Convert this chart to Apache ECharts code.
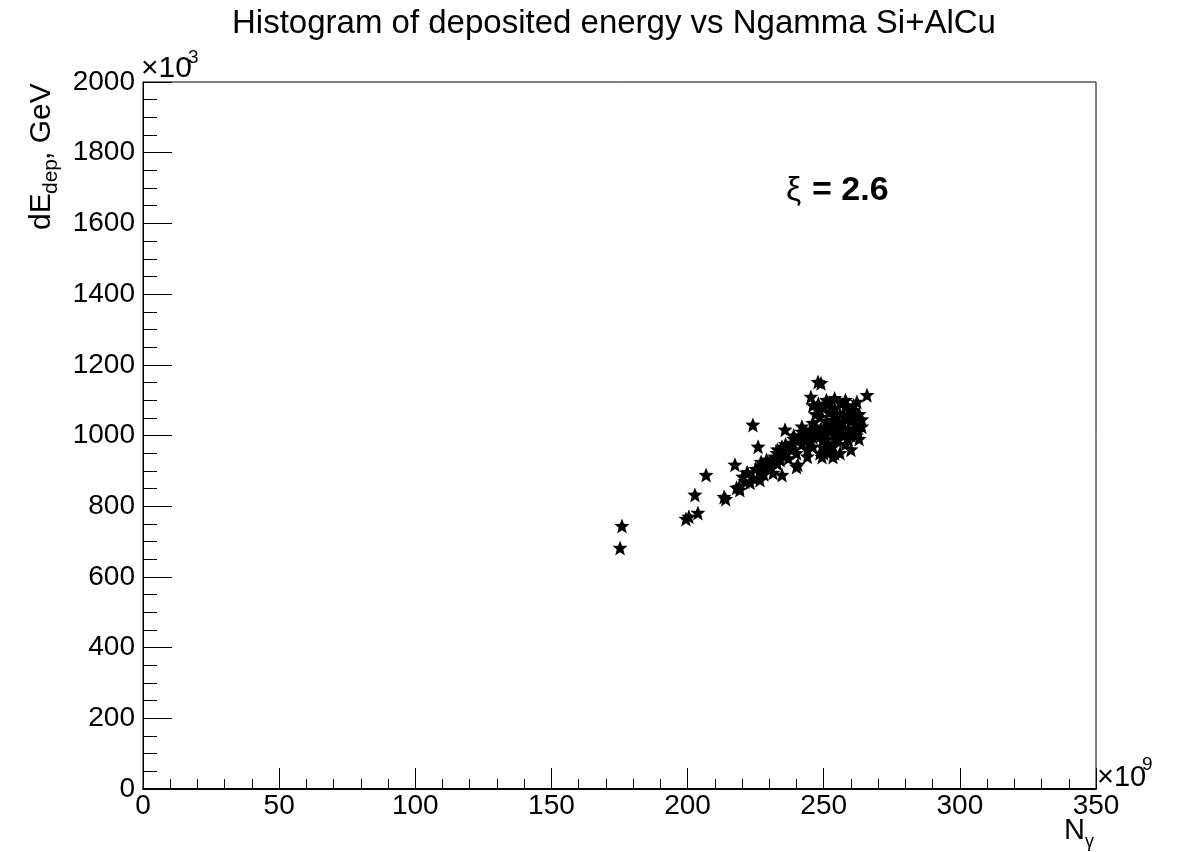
<!DOCTYPE html>
<html>
<head>
<meta charset="utf-8">
<script src="https://cdn.jsdelivr.net/npm/echarts@6/dist/echarts.min.js"></script>
<style>
html,body{margin:0;padding:0;background:#fff;}
#chart{width:1182px;height:852px;}
</style>
</head>
<body>
<div id="chart"></div>
<script>
// ---- data (x in units of 1e9, y in units of 1e3 GeV) ----
const ngamma = [
  175.2,175.9,199.4,200.5,203.8,202.7,206.8,213.4,214.0,217.4,219.2,218.0,224.0,225.9,235.8,247.9,249.0,245.3,265.9,
  220.3,221.0,223.0,222.0,224.0,225.0,226.6,227.0,228.0,229.0,
  230.0,231.4,232.0,233.0,234.7,234.0,235.0,236.0,234.7,237.0,
  238.7,238.0,239.0,240.5,240.0,241.3,242.0,242.0,243.8,244.0,
  245.0,246.0,246.0,247.0,247.0,248.6,248.6,248.6,249.7,249.4,
  249.0,250.0,250.0,251.0,251.0,252.3,252.3,252.0,253.4,253.4,
  253.4,254.0,254.0,255.0,255.0,256.0,256.0,256.0,257.0,257.0,
  258.5,258.0,258.0,259.0,259.0,260.0,260.7,260.0,261.0,261.0,
  262.2,262.2,262.6,262.0,263.0,263.0,264.0,264.0,251.0,254.0,
  219.0,221.8,226.6,229.0,232.8,234.7,240.0,
  243,245,247,249,251,253,255,257,259,261,244,246,248,250,252,254,256,258,260,250,252,254,248,246,242,239,236,233,230,227
];
const edep = [
  682,744,764,770,781,832,888,826,820,917,846,852,1030,968,1016,1151,1148,1109,1114,
  883,870,866,895,880,905,902,925,890,931,
  915,894,940,920,888,931,955,945,968,935,
  979,960,990,917,950,996,975,1010,1007,960,
  985,968,1035,1000,1060,950,1052,1072,987,939,
  1020,1005,965,1040,990,1010,1092,955,1044,968,
  939,1075,1000,1020,985,1092,1060,950,1035,1005,
  1052,975,1100,1020,990,1040,1072,960,1010,1085,
  1095,1030,1010,1000,1060,990,1045,1025,1100,1105,
  854,894,874,911,950,965,911,
  990,1015,1025,1000,975,1020,1040,1000,1060,1050,940,995,1010,1080,1030,1055,1015,1080,1000,950,1065,950,1090,1085,1025,1000,975,960,925,915
];
const xTicks = {min: 0, max: 350, step: 50};
const yTicks = {min: 0, max: 2000, step: 200};
const titleText = 'Histogram of deposited energy vs Ngamma Si+AlCu';
const annotation = '= 2.6';

const points = ngamma.map((x, i) => [x, edep[i]]);
const FONT = 'Liberation Sans';
const star = 'path://M50,0 L63,32 L98,33 L71,56 L81,92 L50,72 L19,92 L29,56 L2,33 L37,32 Z';

const chart = echarts.init(document.getElementById('chart'));
chart.setOption({
  backgroundColor: '#fff',
  animation: false,
  grid: {left: 143, top: 82, width: 953, height: 707, show: true, borderColor: '#000', borderWidth: 1, backgroundColor: 'transparent'},
  xAxis: {
    type: 'value', min: xTicks.min, max: xTicks.max, interval: xTicks.step,
    axisLine: {show: true, onZero: false, lineStyle: {color: '#000', width: 2}},
    axisTick: {show: true, inside: true, length: 21, lineStyle: {color: '#000', width: 1}},
    minorTick: {show: true, splitNumber: 5, length: 10, lineStyle: {color: '#000', width: 1}},
    axisLabel: {color: '#000', fontFamily: FONT, fontSize: 28, margin: 3, showMinLabel: true, showMaxLabel: true, formatter: v => String(v)},
    splitLine: {show: false}
  },
  yAxis: {
    type: 'value', min: yTicks.min, max: yTicks.max, interval: yTicks.step,
    axisLine: {show: true, onZero: false, lineStyle: {color: '#000', width: 1}},
    axisTick: {show: true, inside: true, length: 29, lineStyle: {color: '#000', width: 1}},
    minorTick: {show: true, splitNumber: 4, length: 14, lineStyle: {color: '#000', width: 1}},
    axisLabel: {color: '#000', fontFamily: FONT, fontSize: 28, margin: 8, showMinLabel: true, showMaxLabel: true, formatter: v => String(v)},
    splitLine: {show: false}
  },
  series: [{
    type: 'scatter',
    data: points,
    symbol: star,
    symbolSize: 15,
    itemStyle: {color: '#000', opacity: 1},
    silent: true
  }],
  graphic: [
    {type: 'text', x: 614, y: 7, style: {text: titleText, font: '33px "Liberation Sans"', fill: '#000', align: 'center'}},
    {type: 'text', x: 141, y: 54, style: {text: '×10', font: '30px "Liberation Sans"', fill: '#000'}},
    {type: 'text', x: 188, y: 48, style: {text: '3', font: '19px "Liberation Sans"', fill: '#000'}},
    {type: 'text', x: 1097, y: 763, style: {text: '×10', font: '29px "Liberation Sans"', fill: '#000'}},
    {type: 'text', x: 1142, y: 755, style: {text: '9', font: '19px "Liberation Sans"', fill: '#000'}},
    {type: 'text', x: 1064, y: 816, style: {text: 'N', font: '29px "Liberation Sans"', fill: '#000'}},
    {type: 'text', x: 1085, y: 833, style: {text: 'γ', font: '18px "Liberation Sans"', fill: '#000'}},
    {type: 'text', x: 786, y: 174, style: {text: 'ξ', font: '34px "Liberation Sans"', fill: '#000'}},
    {type: 'text', x: 812, y: 174, style: {text: annotation, font: 'bold 34px "Liberation Sans"', fill: '#000'}},
    {type: 'group', x: 42, y: 230, rotation: Math.PI / 2, children: [
      {type: 'text', x: 0, y: 0, style: {text: 'dE', font: '30px "Liberation Sans"', fill: '#000', verticalAlign: 'middle'}},
      {type: 'text', x: 36, y: 9, style: {text: 'dep', font: '21px "Liberation Sans"', fill: '#000', verticalAlign: 'middle'}},
      {type: 'text', x: 70, y: 0, style: {text: ', GeV', font: '30px "Liberation Sans"', fill: '#000', verticalAlign: 'middle'}}
    ]}
  ]
});
</script>
</body>
</html>
